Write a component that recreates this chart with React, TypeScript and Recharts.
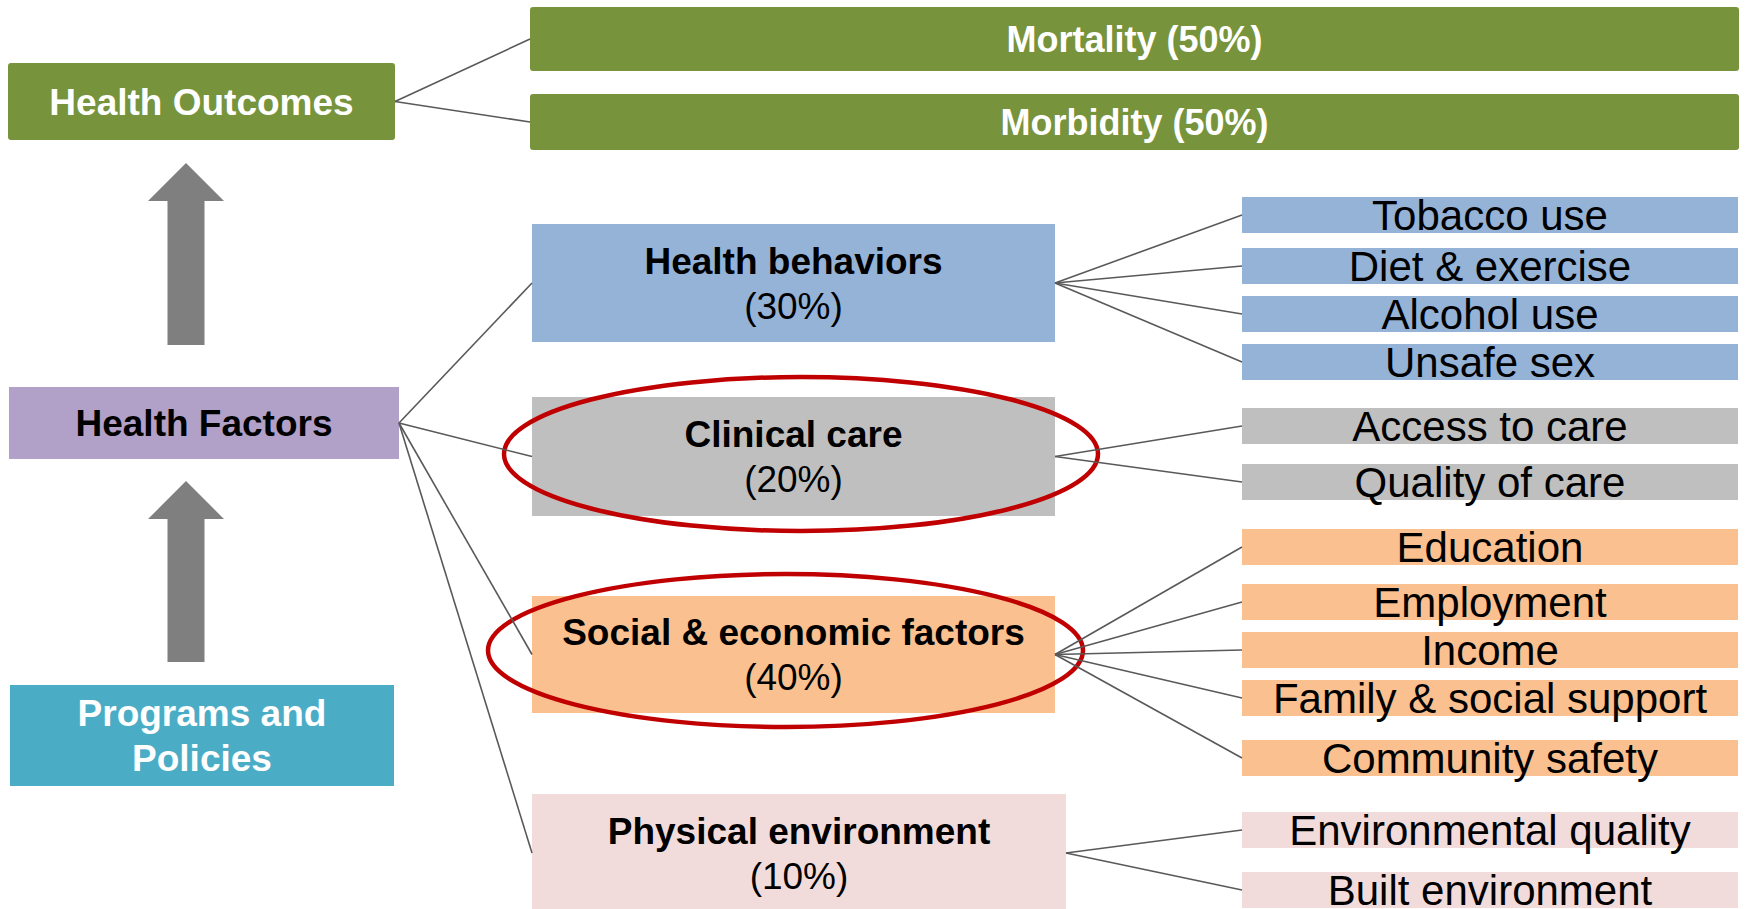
import React from "react";
import { ComposedChart, XAxis, YAxis, ReferenceArea, ReferenceLine } from "recharts";

const FONT = "'Liberation Sans', Arial, sans-serif";

// left column: outcomes, factors, programs
const leftLabels = [["Health Outcomes"], ["Health Factors"], ["Programs and", "Policies"]];
const leftX = [[8, 395], [9, 399], [10, 394]];
const leftY = [[63, 140], [387, 459], [685, 786]];

// outcome bars
const outcomeLabels = ["Mortality (50%)", "Morbidity (50%)"];
const outcomeX = [530, 1739];
const outcomeY = [[7, 71], [94, 150]];

// factor groups
const factorNames = ["Health behaviors", "Clinical care", "Social & economic factors", "Physical environment"];
const factorShares = ["(30%)", "(20%)", "(40%)", "(10%)"];
const factorX = [[532, 1055], [532, 1055], [532, 1055], [532, 1066]];
const factorY = [[224, 342], [397, 516], [596, 713], [794, 912]];

// detail items for each factor
const detailItems = [
  ["Tobacco use", "Diet & exercise", "Alcohol use", "Unsafe sex"],
  ["Access to care", "Quality of care"],
  ["Education", "Employment", "Income", "Family & social support", "Community safety"],
  ["Environmental quality", "Built environment"],
];
const detailX = [1242, 1738];
const detailY = [
  [[197, 233], [248, 284], [296, 332], [344, 380]],
  [[408, 444], [464, 500]],
  [[529, 565], [584, 620], [632, 668], [680, 716], [740, 776]],
  [[812, 848], [872, 908]],
];

// up arrows between the left boxes
const arrowX = [148, 224];
const arrowY = [[163, 345], [481, 662]];

// red rings around clinical care and social & economic factors
const ringX = [[504, 1098], [488, 1083]];
const ringY = [[377, 531], [574, 727]];

const leftFill = ["#77933C", "#B1A0C7", "#4BACC6"];
const leftInk = ["#FFFFFF", "#000000", "#FFFFFF"];
const factorFill = ["#95B3D7", "#BFBFBF", "#FAC090", "#F2DCDB"];
const LINE = "#595959";

const mid = (r: number[]) => (r[0] + r[1]) / 2;

type Txt = { t: string; size: number; bold: boolean };

const boxShape = (fill: string, lines: Txt[], ink: string, radius = 0, gap = 45) => (p: any) => {
  const cx = p.x + p.width / 2;
  const cy = p.y + p.height / 2;
  const n = lines.length;
  return (
    <g>
      <rect x={p.x} y={p.y} width={p.width} height={p.height} fill={fill} rx={radius} ry={radius} />
      {lines.map((l, i) => (
        <text
          key={i}
          x={cx}
          y={cy + (i - (n - 1) / 2) * gap + 0.36 * l.size}
          textAnchor="middle"
          fontFamily={FONT}
          fontSize={l.size}
          fontWeight={l.bold ? 700 : 400}
          fill={ink}
        >
          {l.t}
        </text>
      ))}
    </g>
  );
};

const arrowShape = (p: any) => {
  const cx = p.x + p.width / 2;
  const head = 38;
  const half = 18.5;
  const pts = [
    [cx, p.y],
    [p.x + p.width, p.y + head],
    [cx + half, p.y + head],
    [cx + half, p.y + p.height],
    [cx - half, p.y + p.height],
    [cx - half, p.y + head],
    [p.x, p.y + head],
  ];
  return <polygon points={pts.map((q) => q.join(",")).join(" ")} fill="#7F7F7F" />;
};

const ringShape = (p: any) => (
  <ellipse
    cx={p.x + p.width / 2}
    cy={p.y + p.height / 2}
    rx={p.width / 2}
    ry={p.height / 2}
    fill="none"
    stroke="#C00000"
    strokeWidth={4.5}
  />
);

export default function App() {
  const links: { a: { x: number; y: number }; b: { x: number; y: number } }[] = [];
  outcomeY.forEach((oy) => links.push({ a: { x: leftX[0][1], y: mid(leftY[0]) }, b: { x: outcomeX[0], y: mid(oy) } }));
  factorY.forEach((fy, i) => links.push({ a: { x: leftX[1][1], y: mid(leftY[1]) }, b: { x: factorX[i][0], y: mid(fy) } }));
  detailY.forEach((rows, i) =>
    rows.forEach((ry) => links.push({ a: { x: factorX[i][1], y: mid(factorY[i]) }, b: { x: detailX[0], y: mid(ry) } }))
  );

  return (
    <div style={{ position: "absolute", left: 0, top: 0, width: 1746, height: 909, background: "#fff", overflow: "hidden" }}>
      <ComposedChart width={1746} height={909} margin={{ top: 0, right: 0, bottom: 0, left: 0 }}>
        <XAxis type="number" dataKey="x" domain={[0, 1746]} allowDataOverflow hide />
        <YAxis type="number" domain={[0, 909]} reversed allowDataOverflow hide />

        {links.map((l, i) => (
          <ReferenceLine key={`l${i}`} segment={[l.a, l.b]} stroke={LINE} strokeWidth={1.6} ifOverflow="visible" />
        ))}

        {leftLabels.map((lines, i) => (
          <ReferenceArea
            key={`left${i}`}
            x1={leftX[i][0]}
            x2={leftX[i][1]}
            y1={leftY[i][0]}
            y2={leftY[i][1]}
            ifOverflow="visible"
            shape={boxShape(leftFill[i], lines.map((t) => ({ t, size: 37, bold: true })), leftInk[i], i === 0 ? 3 : 0)}
          />
        ))}

        {outcomeLabels.map((t, i) => (
          <ReferenceArea
            key={`out${i}`}
            x1={outcomeX[0]}
            x2={outcomeX[1]}
            y1={outcomeY[i][0]}
            y2={outcomeY[i][1]}
            ifOverflow="visible"
            shape={boxShape(leftFill[0], [{ t, size: 36, bold: true }], "#FFFFFF", 3)}
          />
        ))}

        {factorNames.map((t, i) => (
          <ReferenceArea
            key={`f${i}`}
            x1={factorX[i][0]}
            x2={factorX[i][1]}
            y1={factorY[i][0]}
            y2={factorY[i][1]}
            ifOverflow="visible"
            shape={boxShape(
              factorFill[i],
              [
                { t, size: 37, bold: true },
                { t: factorShares[i], size: 37, bold: false },
              ],
              "#000000"
            )}
          />
        ))}

        {detailItems.map((items, i) =>
          items.map((t, j) => (
            <ReferenceArea
              key={`d${i}-${j}`}
              x1={detailX[0]}
              x2={detailX[1]}
              y1={detailY[i][j][0]}
              y2={detailY[i][j][1]}
              ifOverflow="visible"
              shape={boxShape(factorFill[i], [{ t, size: 42, bold: false }], "#000000")}
            />
          ))
        )}

        {arrowY.map((ay, i) => (
          <ReferenceArea key={`a${i}`} x1={arrowX[0]} x2={arrowX[1]} y1={ay[0]} y2={ay[1]} ifOverflow="visible" shape={arrowShape} />
        ))}

        {ringX.map((rx, i) => (
          <ReferenceArea key={`r${i}`} x1={rx[0]} x2={rx[1]} y1={ringY[i][0]} y2={ringY[i][1]} ifOverflow="visible" shape={ringShape} />
        ))}
      </ComposedChart>
    </div>
  );
}
